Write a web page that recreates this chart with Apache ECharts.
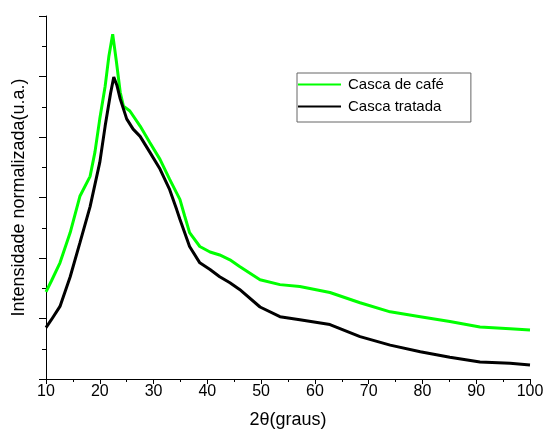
<!DOCTYPE html>
<html><head><meta charset="utf-8">
<script src="https://cdn.jsdelivr.net/npm/echarts@6/dist/echarts.min.js"></script>
<style>html,body{margin:0;padding:0;background:#fff}#c{width:544px;height:437px}</style>
</head><body><div id="c"></div>
<script>
var xGreen = [10, 11, 12.6, 14.5, 16.3, 18.2, 19.1, 20, 21, 21.7, 22.4, 23.1, 23.8, 24.4, 25.6, 27.5, 29.3, 31.2, 33, 34.9, 35.8, 36.7, 38.6, 40.5, 42.3, 44.2, 46, 49.8, 53.5, 57.2, 62.8, 68.4, 74, 79.6, 85.1, 90.7, 96.3, 100];
var yGreen = [1.44, 1.62, 1.92, 2.42, 3.02, 3.35, 3.75, 4.3, 4.84, 5.34, 5.7, 5.24, 4.74, 4.51, 4.43, 4.18, 3.91, 3.63, 3.3, 2.97, 2.69, 2.42, 2.19, 2.1, 2.05, 1.97, 1.86, 1.64, 1.56, 1.53, 1.43, 1.26, 1.11, 1.03, 0.95, 0.86, 0.83, 0.81];
var xBlack = [10, 11, 12.6, 14.5, 16.3, 18.2, 20, 21, 22, 22.6, 23.2, 23.8, 25, 26.2, 27.5, 29.3, 31.2, 33, 34.3, 34.9, 36.7, 38.6, 40.5, 42.3, 44.2, 46, 49.8, 53.5, 57.2, 62.8, 68.4, 74, 79.6, 85.1, 90.7, 96.3, 100];
var yBlack = [0.85, 0.98, 1.2, 1.69, 2.25, 2.85, 3.58, 4.18, 4.72, 4.99, 4.85, 4.63, 4.3, 4.13, 4.01, 3.75, 3.47, 3.13, 2.8, 2.64, 2.19, 1.92, 1.81, 1.69, 1.59, 1.48, 1.19, 1.03, 0.98, 0.9, 0.7, 0.56, 0.45, 0.36, 0.28, 0.26, 0.23];
var seriesNames = ['Casca de café', 'Casca tratada'];
var xTicks = [10, 20, 30, 40, 50, 60, 70, 80, 90, 100];

function pairs(xs, ys){ return xs.map(function(x,i){return [x, ys[i]];}); }
var font = 'Liberation Sans, Arial, sans-serif';
var chart = echarts.init(document.getElementById('c'));
chart.setOption({
  animation: false,
  backgroundColor: '#fff',
  grid: {left: 46, right: 14, top: 16, bottom: 58, containLabel: false, outerBoundsMode: 'none'},
  legend: {
    orient: 'vertical', left: 297, top: 73,
    data: seriesNames.map(function(n){ return {name: n, icon: 'rect'}; }),
    borderColor: '#666', borderWidth: 1, padding: [4, 27, 8, 1],
    itemWidth: 43, itemHeight: 2, itemGap: 7,
    textStyle: {fontFamily: font, fontSize: 15, color: '#000', padding: [0, 0, 0, 2]}
  },
  xAxis: {
    type: 'value', min: 10, max: 100, interval: 10,
    name: '2θ(graus)', nameLocation: 'middle', nameGap: 32,
    nameTextStyle: {fontFamily: font, fontSize: 18, color: '#000'},
    axisLine: {lineStyle: {color: '#000', width: 1}},
    axisTick: {show: true, length: 5, lineStyle: {color: '#000'}},
    minorTick: {show: true, splitNumber: 2, length: 3, lineStyle: {color: '#000'}},
    axisLabel: {fontFamily: font, fontSize: 16, color: '#000', margin: 5,
      formatter: function(v){ return xTicks.indexOf(v) >= 0 ? String(v) : ''; }},
    splitLine: {show: false}
  },
  yAxis: {
    type: 'value', min: 0, max: 6, interval: 1,
    name: 'Intensidade normalizada(u.a.)', nameLocation: 'middle', nameGap: 18,
    nameTextStyle: {fontFamily: font, fontSize: 18, color: '#000'},
    axisLine: {show: true, lineStyle: {color: '#000', width: 1}},
    axisTick: {show: true, length: 7, lineStyle: {color: '#000'}},
    minorTick: {show: true, splitNumber: 2, length: 4, lineStyle: {color: '#000'}},
    axisLabel: {show: false},
    splitLine: {show: false}
  },
  series: [
    {name: seriesNames[0], type: 'line', data: pairs(xGreen, yGreen), symbol: 'none',
     lineStyle: {color: '#00ff00', width: 3}, itemStyle: {color: '#00ff00'}},
    {name: seriesNames[1], type: 'line', data: pairs(xBlack, yBlack), symbol: 'none',
     lineStyle: {color: '#000', width: 3}, itemStyle: {color: '#000'}}
  ]
});
</script></body></html>
